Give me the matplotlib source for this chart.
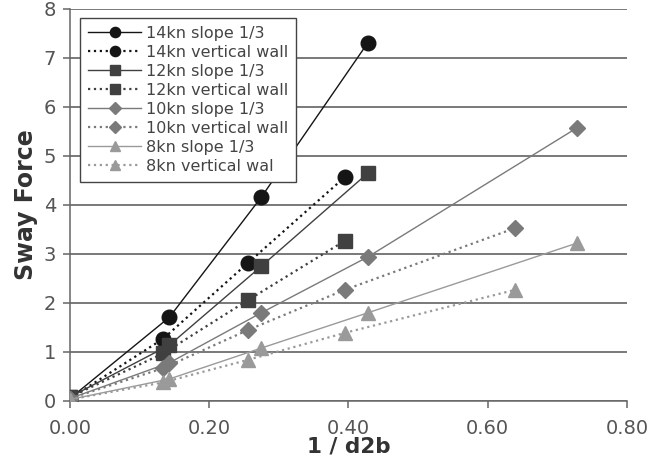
import numpy as np
import matplotlib
matplotlib.use("Agg")
import matplotlib.pyplot as plt

# x-waarden (1 / d2b)
x_slope = [0.0, 0.143, 0.275, 0.428, 0.728]
x_wall = [0.0, 0.134, 0.256, 0.395, 0.640]

# Sway force per snelheid
kn14_slope = [0.05, 1.71, 4.16, 7.31]
kn14_wall = [0.05, 1.27, 2.82, 4.57]
kn12_slope = [0.08, 1.14, 2.75, 4.65]
kn12_wall = [0.08, 0.97, 2.06, 3.27]
kn10_slope = [0.05, 0.78, 1.80, 2.94, 5.57]
kn10_wall = [0.05, 0.67, 1.45, 2.27, 3.53]
kn8_slope = [0.03, 0.45, 1.08, 1.80, 3.22]
kn8_wall = [0.03, 0.38, 0.84, 1.39, 2.27]

series = [
    ("14kn slope 1/3", x_slope, kn14_slope, "o", "#151515", "-"),
    ("14kn vertical wall", x_wall, kn14_wall, "o", "#151515", ":"),
    ("12kn slope 1/3", x_slope, kn12_slope, "s", "#404040", "-"),
    ("12kn vertical wall", x_wall, kn12_wall, "s", "#404040", ":"),
    ("10kn slope 1/3", x_slope, kn10_slope, "D", "#7a7a7a", "-"),
    ("10kn vertical wall", x_wall, kn10_wall, "D", "#7a7a7a", ":"),
    ("8kn slope 1/3", x_slope, kn8_slope, "^", "#9a9a9a", "-"),
    ("8kn vertical wal", x_wall, kn8_wall, "^", "#9a9a9a", ":"),
]
msize = {"o": 10.5, "s": 9.5, "D": 8.5, "^": 10.5}

fig = plt.figure(figsize=(6.53, 4.69), dpi=100)
ax = fig.add_axes([0.107, 0.145, 0.853, 0.836])

for lab, xs, ys, mk, col, ls in series:
    ax.plot(xs[:len(ys)], ys, linestyle=ls, color=col, lw=1.0 if ls == "-" else 1.6,
            marker=mk, markersize=msize[mk], markerfacecolor=col,
            markeredgecolor=col, label=lab, zorder=3)

ax.set_xlim(0, 0.8)
ax.set_ylim(0, 8)
ax.set_xticks(np.arange(0, 0.81, 0.2))
ax.set_xticklabels(["%.2f" % v for v in np.arange(0, 0.81, 0.2)])
ax.set_yticks(range(0, 9))
ax.yaxis.grid(True, color="#555555", lw=1.1)
ax.set_axisbelow(True)
for s in ("top", "right"):
    ax.spines[s].set_visible(False)
for s in ("left", "bottom"):
    ax.spines[s].set_color("#666666")
    ax.spines[s].set_linewidth(1.1)
ax.tick_params(axis="both", colors="#666666", labelcolor="#555555",
               labelsize=14, length=5, width=1.1)
ax.tick_params(axis="x", pad=8)
ax.tick_params(axis="y", pad=5)

ax.set_xlabel("1 / d2b", fontsize=15.5, fontweight="bold", color="#333333", labelpad=-1)
ax.set_ylabel("Sway Force", fontsize=17, fontweight="bold", color="#333333", labelpad=4)

leg = ax.legend(loc="upper left", bbox_to_anchor=(0.019, 0.977), fontsize=11.5,
                frameon=True, fancybox=False, handlelength=3.3, labelspacing=0.25,
                borderpad=0.5, handletextpad=0.3, borderaxespad=0.0, markerscale=0.7)
leg.get_frame().set_edgecolor("#444444")
leg.get_frame().set_linewidth(1.0)
leg.get_frame().set_alpha(1)
for t in leg.get_texts():
    t.set_color("#444444")

fig.savefig("out.png", dpi=100)
